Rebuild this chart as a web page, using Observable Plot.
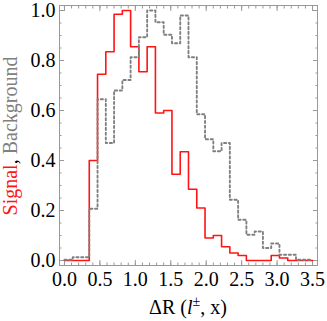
<!DOCTYPE html>
<html><head><meta charset="utf-8">
<script src="https://cdn.jsdelivr.net/npm/d3@7"></script>
<script src="https://cdn.jsdelivr.net/npm/@observablehq/plot@0.6"></script>
<style>html,body{margin:0;padding:0;background:#fff;overflow:hidden}
svg text{font-family:"Liberation Serif","Times New Roman",Times,"DejaVu Serif",serif !important;}</style>
</head><body><div id="chart"></div>
<script>
// Histogram range and bin count (30 equal bins over 0..3.5)
const xRange = [0, 3.5];
const binCount = 30;
// Normalised bin heights
const signal = [0, 0, 0, 0.40, 0.745, 0.835, 0.985, 1.0, 0.855, 0.755,
  0.855, 0.59, 0.60, 0.345, 0.435, 0.285, 0.21, 0.09, 0.10, 0.055,
  0.03, 0.02, 0, 0, 0, 0.02, 0.01, 0, 0, 0];
const background = [0.003, 0.013, 0.013, 0.207, 0.645, 0.47, 0.68, 0.722, 0.813, 0.893,
  1.0, 0.953, 0.903, 0.869, 0.98, 0.813, 0.585, 0.485, 0.437, 0.47,
  0.243, 0.163, 0.103, 0.116, 0.05, 0.068, 0.023, 0.023, 0.003, 0.003];
const xTicks = [0, 0.5, 1.0, 1.5, 2.0, 2.5, 3.0, 3.5];
const yTicks = [0, 0.2, 0.4, 0.6, 0.8, 1.0];
const xMinorStep = 0.1;
const yMinorStep = 0.05;

const binWidth = (xRange[1] - xRange[0]) / binCount;
function stepData(values) {
  const pts = values.map((v, i) => ({x: xRange[0] + i * binWidth, y: v}));
  pts.push({x: xRange[1], y: values[values.length - 1]});
  return pts;
}
const xMinor = d3.range(0, Math.round(3.5 / xMinorStep) + 1).map(i => +(i * xMinorStep).toFixed(3)).filter(v => v <= 3.55);
const yMinor = d3.range(0, Math.round(1 / yMinorStep) + 1).map(i => +(i * yMinorStep).toFixed(3));

const fontFam = '"Liberation Serif", "Times New Roman", Times, serif';
const frameColor = "#999999";
const red = "#ff1414";
const gray = "#808080";
const fmt = d3.format(".1f");
const none = () => "";

const chart = Plot.plot({
  width: 327, height: 321,
  marginLeft: 59, marginRight: 10, marginTop: 5, marginBottom: 56,
  x: {domain: [-0.07, 3.57]},
  y: {domain: [-0.02, 1.02]},
  style: {fontFamily: fontFam, fontSize: "20px", background: "white", color: "black"},
  marks: [
    Plot.axisX(xMinor, {anchor: "bottom", tickSize: -2.5, stroke: frameColor, tickFormat: none, label: null}),
    Plot.axisX(xMinor, {anchor: "top", tickSize: -2.5, stroke: frameColor, tickFormat: none, label: null}),
    Plot.axisX(xTicks, {anchor: "bottom", tickSize: -5, stroke: frameColor, tickFormat: none, label: null}),
    Plot.axisX(xTicks, {anchor: "top", tickSize: -5, stroke: frameColor, tickFormat: none, label: null}),
    Plot.axisX(xTicks, {anchor: "bottom", tickSize: 0, tickPadding: 6, tickFormat: fmt, fill: "black", fontSize: 20, label: null}),
    Plot.axisY(yMinor, {anchor: "left", tickSize: -2.5, stroke: frameColor, tickFormat: none, label: null}),
    Plot.axisY(yMinor, {anchor: "right", tickSize: -2.5, stroke: frameColor, tickFormat: none, label: null}),
    Plot.axisY(yTicks, {anchor: "left", tickSize: -5, stroke: frameColor, tickFormat: none, label: null}),
    Plot.axisY(yTicks, {anchor: "right", tickSize: -5, stroke: frameColor, tickFormat: none, label: null}),
    Plot.axisY(yTicks, {anchor: "left", tickSize: 0, tickPadding: 4, tickFormat: fmt, fill: "black", fontSize: 20, label: null}),
    Plot.frame({stroke: frameColor}),
    Plot.line(stepData(signal), {x: "x", y: "y", curve: "step-after", stroke: red, strokeWidth: 1.6}),
    Plot.line(stepData(background), {x: "x", y: "y", curve: "step-after", stroke: gray, strokeWidth: 1.9, strokeDasharray: "2.2,2.6"})
  ]
});

const svg = d3.select(chart);
// x-axis title
const xt = svg.append("text")
  .attr("x", 188).attr("y", 314)
  .attr("text-anchor", "middle")
  .attr("font-family", fontFam).attr("font-size", 20).attr("fill", "black");
xt.append("tspan").text("ΔR (");
xt.append("tspan").attr("font-style", "italic").text("l");
xt.append("tspan").attr("font-size", 14).attr("dy", -8).text("±");
xt.append("tspan").attr("dy", 8).text(", x)");
// y-axis title
const yt = svg.append("text")
  .attr("transform", "translate(17,136) rotate(-90)")
  .attr("text-anchor", "middle")
  .attr("font-family", fontFam).attr("font-size", 20);
yt.append("tspan").attr("fill", red).text("Signal");
yt.append("tspan").attr("fill", "black").text(", ");
yt.append("tspan").attr("fill", gray).text("Background");

document.getElementById("chart").appendChild(chart);
</script>
</body></html>
